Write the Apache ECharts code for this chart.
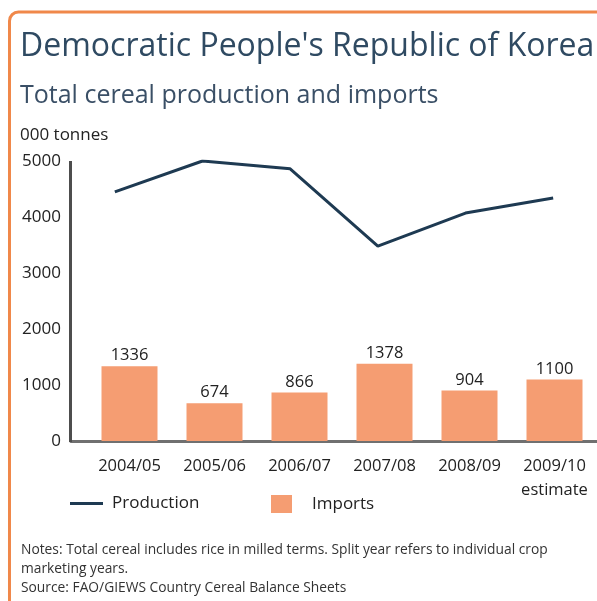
<!DOCTYPE html>
<html>
<head>
<meta charset="utf-8">
<script src="https://cdn.jsdelivr.net/npm/echarts@6/dist/echarts.min.js"></script>
<style>
html,body{margin:0;padding:0;background:#fff;}
#c{width:597px;height:601px;}
</style>
</head>
<body>
<div id="c"></div>
<script>
const categories = ['2004/05', '2005/06', '2006/07', '2007/08', '2008/09', '2009/10\nestimate'];
const production = [4450, 5000, 4860, 3480, 4070, 4340];
const imports = [1336, 674, 866, 1378, 904, 1100];

const FONT = '"Open Sans", "Noto Sans", sans-serif';
const chart = echarts.init(document.getElementById('c'), null, {renderer: 'canvas'});
chart.setOption({
  backgroundColor: '#ffffff',
  animation: false,
  title: [
    {text: "Democratic People's Republic of Korea", left: 20, top: 31, padding: 0,
     textStyle: {fontFamily: FONT, fontSize: 32, fontWeight: 'normal', color: '#2f4a62'}},
    {text: 'Total cereal production and imports', left: 20, top: 83, padding: 0,
     textStyle: {fontFamily: FONT, fontSize: 25, fontWeight: 'normal', color: '#3a4f66'}},
    {text: '000 tonnes', left: 20, top: 127, padding: 0,
     textStyle: {fontFamily: FONT, fontSize: 17, fontWeight: 'normal', color: '#222'}},
    {text: 'Notes: Total cereal includes rice in milled terms. Split year refers to individual crop\nmarketing years.\nSource: FAO/GIEWS Country Cereal Balance Sheets',
     left: 21, top: 541, padding: 0,
     textStyle: {fontFamily: FONT, fontSize: 13.8, fontWeight: 'normal', color: '#333', lineHeight: 19}}
  ],
  legend: [
    {data: ['Production'], left: 70, top: 495, padding: 0, itemWidth: 33, itemHeight: 3, itemGap: 0,
     icon: 'rect', textStyle: {fontFamily: FONT, fontSize: 17, color: '#222', padding: [0,0,0,4]}},
    {data: ['Imports'], left: 271, top: 495, padding: 0, itemWidth: 21, itemHeight: 18, itemGap: 0,
     icon: 'rect', textStyle: {fontFamily: FONT, fontSize: 17, color: '#222', padding: [0,0,0,15]}}
  ],
  grid: [
    {left: 87, top: 161, width: 516, bottom: 160, containLabel: false},
    {left: 71, top: 161, width: 546, bottom: 160, containLabel: false}
  ],
  xAxis: [
    {type: 'category', data: categories, boundaryGap: true, gridIndex: 0,
     axisLine: {show: false},
     axisTick: {show: false},
     axisLabel: {interval: 0, hideOverlap: false, fontFamily: FONT, fontSize: 16.5, color: '#222', margin: 13, lineHeight: 24}},
    {type: 'category', data: categories, boundaryGap: true, gridIndex: 1,
     axisLine: {show: true, lineStyle: {color: '#707070', width: 3}},
     axisTick: {show: false},
     axisLabel: {show: false}}
  ],
  yAxis: [
    {type: 'value', min: 0, max: 5000, interval: 1000, gridIndex: 0, offset: 16,
     axisLine: {show: false},
     axisTick: {show: false},
     splitLine: {show: false},
     axisLabel: {fontFamily: FONT, fontSize: 17, color: '#222', margin: 10,
       formatter: function (v) { return String(v); }}},
    {type: 'value', min: 0, max: 5000, interval: 1000, gridIndex: 1,
     axisLine: {show: false},
     axisTick: {show: false},
     splitLine: {show: false},
     axisLabel: {show: false}}
  ],
  graphic: [
    {type: 'rect', shape: {x: 9.5, y: 12, width: 700, height: 700, r: 9},
     style: {fill: null, stroke: '#f0884a', lineWidth: 3}, z: 1},
    {type: 'rect', shape: {x: 69, y: 161, width: 3, height: 281},
     style: {fill: '#4d4d4d'}, z: 1000}
  ],
  series: [
    {name: 'Imports', type: 'bar', data: imports, barWidth: 56, xAxisIndex: 0, yAxisIndex: 0,
     itemStyle: {color: '#f59d72'},
     label: {show: true, position: 'top', distance: 2, fontFamily: FONT, fontSize: 16.5, color: '#222'}},
    {name: 'Production', type: 'line', data: production, xAxisIndex: 1, yAxisIndex: 1,
     showSymbol: false, symbol: 'none',
     lineStyle: {color: '#1e3a52', width: 3}, itemStyle: {color: '#1e3a52'}, z: 5}
  ]
});
</script>
</body>
</html>
